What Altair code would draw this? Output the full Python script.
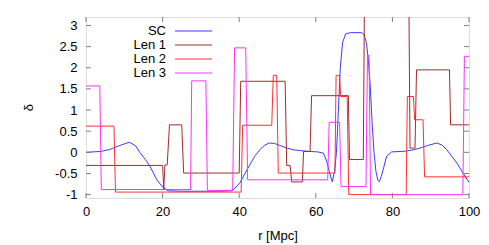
import altair as alt
import pandas as pd

# ---- data ----
r_sc = [0, 3.7, 6, 8.5, 11.3, 13, 14.1, 15.5, 16.7, 18.5, 20.2, 21.5, 25, 30, 35,
        38, 38.8, 40.2, 41.5, 42.8, 44, 45.4, 46.5, 47.8, 49.2, 50.7, 52.5, 54.1, 56,
        58.5, 60.5, 62, 62.8, 63.5, 64.3, 64.9, 65.4, 65.9, 66.4, 67.0, 67.8, 69, 72,
        72.6, 73.2, 73.7, 74.2, 74.7, 75.2, 75.7, 76.2, 76.6, 77.1, 77.7, 78.5, 79.8,
        82, 83.7, 85.5, 87.2, 89.5, 91.6, 93, 94.2, 95.5, 96.8, 98.5, 100]
d_sc = [0.0, 0.02, 0.06, 0.15, 0.24, 0.15, -0.01, -0.17, -0.33, -0.65, -0.84, -0.91,
        -0.92, -0.92, -0.92, -0.91, -0.86, -0.72, -0.5, -0.29, -0.1, 0.06, 0.16, 0.22,
        0.21, 0.16, 0.10, 0.06, 0.04, 0.02, 0.01, -0.02, -0.2, -0.45, -0.70, -0.45, 0.0,
        1.0, 2.0, 2.6, 2.8, 2.83, 2.83, 2.78, 2.6, 2.2, 1.6, 0.7, 0.0, -0.45, -0.66,
        -0.69, -0.57, -0.37, -0.09, 0.01, 0.02, 0.03, 0.06, 0.1, 0.17, 0.22, 0.17, 0.06,
        -0.09, -0.25, -0.5, -0.71]

r_l1 = [0, 20.0, 20.3, 20.6, 21.2, 21.8, 25.0, 25.5, 40.0, 40.4, 52.0, 52.4, 53.3,
        53.7, 56.5, 56.8, 58.5, 58.9, 68.5, 68.8, 72.4, 72.7, 84.3, 84.6, 85.9, 86.3,
        94.9, 95.2, 100]
d_l1 = [-0.31, -0.31, -0.88, -0.3, -0.3, 0.65, 0.65, -0.49, -0.49, 1.68, 1.68, -0.31,
        -0.31, -0.7, -0.7, 0.02, 0.02, 1.34, 1.34, -0.17, -0.17, 3.6, 3.6, 0.1, 0.1,
        1.95, 1.95, 0.65, 0.65]

r_l2 = [0, 7.3, 7.7, 40.5, 40.9, 48.5, 48.9, 49.8, 50.2, 65.0, 65.3, 66.2, 66.5, 68.2,
        68.6, 83.6, 83.9, 85.5, 85.8, 88.0, 88.4, 100]
d_l2 = [0.62, 0.62, -0.94, -0.94, 0.64, 0.64, 1.82, 1.82, -0.49, -0.49, 1.82, 1.82,
        1.32, 1.32, -1.0, -1.0, 1.32, 1.32, 0.77, 0.77, -0.58, -0.58]

r_l3 = [0, 3.6, 4.0, 27.3, 27.6, 31.3, 31.7, 38.3, 38.8, 41.7, 42.2, 63.1, 63.5, 66.2,
        66.6, 73.1, 73.5, 73.9, 74.3, 98.4, 98.8, 100]
d_l3 = [1.57, 1.57, -0.88, -0.88, 1.69, 1.69, -0.9, -0.9, 2.47, 2.47, -0.65, -0.65,
        0.71, 0.71, -0.81, -0.81, 2.29, 2.29, -1.0, -1.0, 2.27, 2.27]

series_names = ["SC", "Len 1", "Len 2", "Len 3"]
series_colors = ["#3a3aff", "#a52a2a", "#ff3030", "#ff30ff"]

x_ticks = [0, 20, 40, 60, 80, 100]
y_ticks = [-1, -0.5, 0, 0.5, 1, 1.5, 2, 2.5, 3]

x_title = "r [Mpc]"
y_title = "δ"

# ---- layout ----
W, H = 383, 181
FONT = "Liberation Sans"
FS = 13
FRAME = "#808080"

xs = alt.Scale(domain=[0, 100], nice=False, zero=False)
ys = alt.Scale(domain=[-1.08, 3.2], nice=False, zero=False)

x_axis = alt.Axis(values=x_ticks, labelExpr="'' + datum.value", ticks=False, domain=False,
                  grid=False, labelPadding=7, labelFont=FONT, labelFontSize=FS,
                  labelColor="black", labelFlush=False, title=x_title, titleFont=FONT,
                  titleFontSize=FS, titleFontWeight="normal", titleColor="black",
                  titleY=41, titleBaseline="alphabetic")
y_axis = alt.Axis(values=y_ticks, labelExpr="'' + datum.value", ticks=False, domain=False,
                  grid=False, labelPadding=9, labelFont=FONT, labelFontSize=FS,
                  labelColor="black", labelFlush=False)

all_r = [r_sc, r_l1, r_l2, r_l3]
all_d = [d_sc, d_l1, d_l2, d_l3]

layers = []
for k, (name, col, rr, dd) in enumerate(zip(series_names, series_colors, all_r, all_d)):
    df = pd.DataFrame({"r": rr, "d": dd, "i": list(range(len(rr)))})
    layers.append(
        alt.Chart(df).mark_line(color=col, strokeWidth=1, clip=True).encode(
            x=alt.X("r:Q", scale=xs, axis=x_axis),
            y=alt.Y("d:Q", scale=ys, axis=y_axis, title=None),
            order="i:Q",
        )
    )

# inward ticks on all four sides
xt = pd.DataFrame({"r": x_ticks})
yt = pd.DataFrame({"d": y_ticks})
TL = 5
layers.append(alt.Chart(xt).mark_rule(color=FRAME, strokeWidth=1).encode(
    x=alt.X("r:Q", scale=xs, axis=x_axis), y=alt.value(H), y2=alt.value(H - TL)))
layers.append(alt.Chart(xt).mark_rule(color=FRAME, strokeWidth=1).encode(
    x=alt.X("r:Q", scale=xs, axis=x_axis), y=alt.value(0), y2=alt.value(TL)))
layers.append(alt.Chart(yt).mark_rule(color=FRAME, strokeWidth=1).encode(
    y=alt.Y("d:Q", scale=ys, axis=y_axis, title=None), x=alt.value(0), x2=alt.value(TL)))
layers.append(alt.Chart(yt).mark_rule(color=FRAME, strokeWidth=1).encode(
    y=alt.Y("d:Q", scale=ys, axis=y_axis, title=None), x=alt.value(W), x2=alt.value(W - TL)))

one = pd.DataFrame({"k": [0]})

# rotated y title, as gnuplot draws it
layers.append(alt.Chart(one).mark_text(angle=270, align="center", baseline="middle",
                                       font=FONT, fontSize=FS, color="black").encode(
    x=alt.value(-57), y=alt.value(H / 2), text=alt.value(y_title)))

# gnuplot-style key: right-aligned label, then line sample
for k, (name, col) in enumerate(zip(series_names, series_colors)):
    yy = 14 + 14 * k
    layers.append(alt.Chart(one).mark_text(align="right", baseline="middle", font=FONT,
                                           fontSize=FS, fontWeight="normal",
                                           color="black").encode(
        x=alt.value(80), y=alt.value(yy), text=alt.value(name)))
    layers.append(alt.Chart(one).mark_rule(color=col, strokeWidth=1).encode(
        x=alt.value(89), x2=alt.value(126), y=alt.value(yy)))

chart = alt.layer(*layers).properties(
    width=W, height=H, autosize="none",
    padding={"left": 78, "top": 9, "right": 12, "bottom": 46},
).configure_view(stroke=FRAME, strokeWidth=1.5).configure(background="white")

chart.save("out.html", embed_options={"renderer": "svg", "actions": False})
